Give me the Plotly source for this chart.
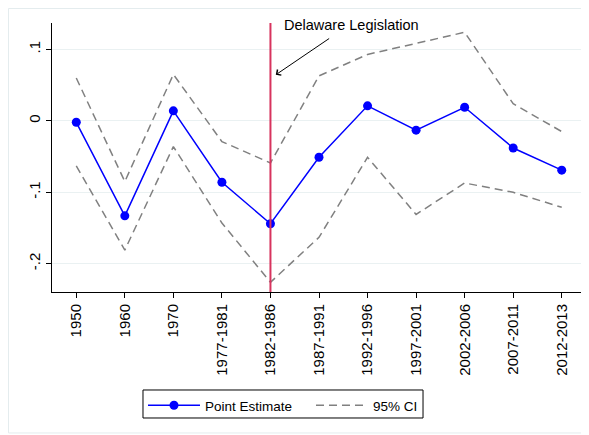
import plotly.graph_objects as go

periods = ["1950", "1960", "1970", "1977-1981", "1982-1986", "1987-1991",
           "1992-1996", "1997-2001", "2002-2006", "2007-2011", "2012-2013"]
point_estimate = [-0.002, -0.133, 0.014, -0.086, -0.144, -0.051,
                  0.021, -0.013, 0.019, -0.038, -0.069]
ci_upper = [0.060, -0.085, 0.065, -0.029, -0.059, 0.063,
            0.093, 0.109, 0.124, 0.024, -0.015]
ci_lower = [-0.063, -0.181, -0.036, -0.143, -0.226, -0.163,
            -0.051, -0.131, -0.087, -0.100, -0.121]
ytick_vals = [-0.2, -0.1, 0.0, 0.1]
ytick_text = ["-.2", "-.1", "0", ".1"]
event_period = "1982-1986"
event_label = "Delaware Legislation"

xi = list(range(len(periods)))
ev = periods.index(event_period)

fig = go.Figure()
fig.add_trace(go.Scatter(
    x=xi, y=point_estimate, mode="lines+markers", name="Point Estimate",
    line=dict(color="#0000ff", width=1.5),
    marker=dict(color="#0000ff", size=9),
))
fig.add_trace(go.Scatter(
    x=xi, y=ci_upper, mode="lines", name="95% CI",
    line=dict(color="#808080", width=1.5, dash="8px,5px"),
))
fig.add_trace(go.Scatter(
    x=xi, y=ci_lower, mode="lines", name="95% CI", showlegend=False,
    line=dict(color="#808080", width=1.5, dash="8px,5px"),
))

# event vertical line
fig.add_shape(type="line", xref="x", yref="paper", x0=ev, x1=ev, y0=0, y1=1,
              line=dict(color="#d7335e", width=2), layer="above")
# outer frame
fig.add_shape(type="rect", xref="paper", yref="paper",
              x0=-0.0815, x1=1.03, y0=-0.524, y1=1.054,
              line=dict(color="#e4ecee", width=1), layer="below")
# legend box
fig.add_shape(type="rect", xref="paper", yref="paper",
              x0=0.1704, x1=0.6948, y0=-0.4684, y1=-0.3643,
              line=dict(color="black", width=1), layer="above")

fig.add_annotation(x=ev + 0.23, y=0.134, xref="x", yref="y", text=event_label,
                   showarrow=False, xanchor="left", yanchor="middle",
                   font=dict(size=14.5, color="black", family="Liberation Sans, Arial"))
fig.add_annotation(x=ev + 0.11, y=0.0645, xref="x", yref="y",
                   ax=ev + 1.24, ay=0.1167, axref="x", ayref="y",
                   text="", showarrow=True, arrowhead=4, arrowsize=1.3,
                   arrowwidth=1, arrowcolor="black")

fig.update_layout(
    width=581, height=427,
    margin=dict(l=44, r=3, t=15, b=143, autoexpand=False),
    paper_bgcolor="white", plot_bgcolor="white",
    font=dict(family="Liberation Sans, Arial", size=15, color="black"),
    showlegend=True,
    legend=dict(orientation="h", x=0.1704, xanchor="left", y=-0.3643, yanchor="top",
                borderwidth=0, font=dict(size=13.5), bgcolor="rgba(0,0,0,0)",
                entrywidth=101, entrywidthmode="pixels", itemwidth=52),
)
fig.update_xaxes(
    range=[-0.5, 10.5], tickvals=xi, ticktext=periods, tickangle=-90,
    showline=True, linecolor="black", linewidth=1, mirror=False, automargin=False,
    ticks="outside", ticklen=5, tickcolor="black", showgrid=False, zeroline=False,
    tickfont=dict(size=15),
)
fig.update_yaxes(
    range=[-0.2396, 0.137], tickvals=ytick_vals, ticktext=ytick_text, tickangle=-90,
    showline=True, linecolor="black", linewidth=1, automargin=False,
    ticks="outside", ticklen=5, tickcolor="black",
    showgrid=True, gridcolor="#eaf1f2", gridwidth=1, zeroline=False,
    tickfont=dict(size=15),
)

fig.write_html("out.html")
